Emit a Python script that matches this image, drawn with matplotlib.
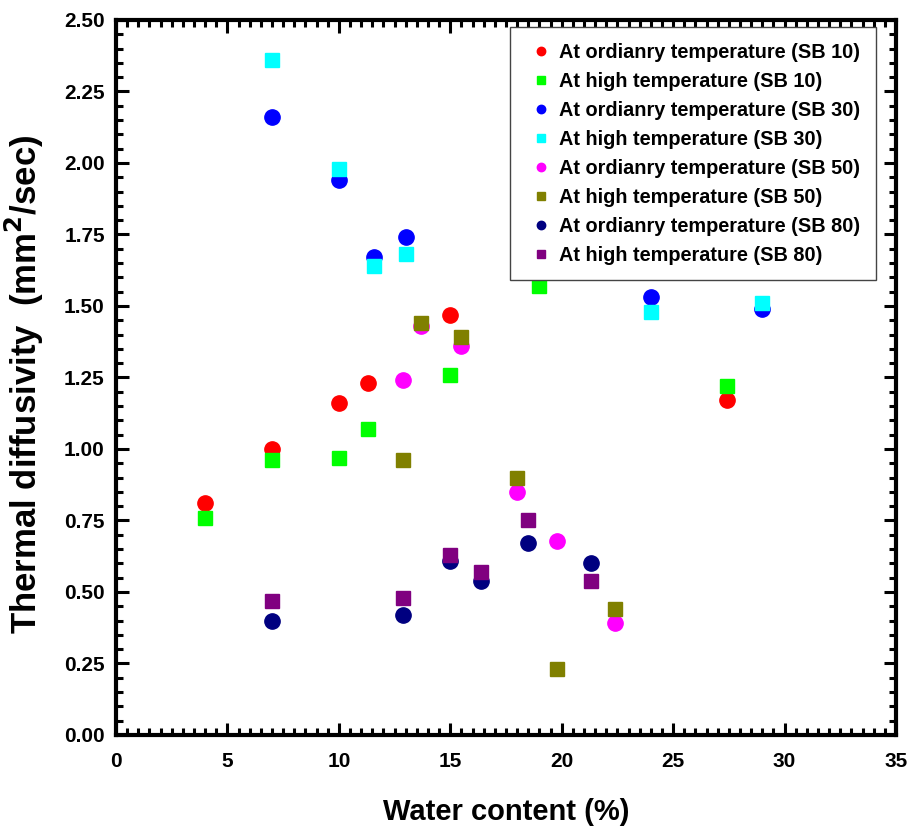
import matplotlib
matplotlib.use("Agg")
import matplotlib.pyplot as plt
from matplotlib.ticker import MultipleLocator

plt.rcParams['font.family'] = ['Liberation Sans', 'DejaVu Sans']
plt.rcParams['font.weight'] = 'bold'

# SB 10
sb10_ord_x = [4, 7, 10, 11.3, 15, 27.4]
sb10_ord_y = [0.81, 1.00, 1.16, 1.23, 1.47, 1.17]
sb10_high_x = [4, 7, 10, 11.3, 15, 19, 27.4]
sb10_high_y = [0.76, 0.96, 0.97, 1.07, 1.26, 1.57, 1.22]
# SB 30
sb30_ord_x = [7, 10, 11.6, 13, 24, 29]
sb30_ord_y = [2.16, 1.94, 1.67, 1.74, 1.53, 1.49]
sb30_high_x = [7, 10, 11.6, 13, 24, 29]
sb30_high_y = [2.36, 1.98, 1.64, 1.68, 1.48, 1.51]
# SB 50
sb50_ord_x = [12.9, 13.7, 15.5, 18, 19.8, 22.4]
sb50_ord_y = [1.24, 1.43, 1.36, 0.85, 0.68, 0.39]
sb50_high_x = [12.9, 13.7, 15.5, 18, 19.8, 22.4]
sb50_high_y = [0.96, 1.44, 1.39, 0.90, 0.23, 0.44]
# SB 80
sb80_ord_x = [7, 12.9, 15, 16.4, 18.5, 21.3]
sb80_ord_y = [0.40, 0.42, 0.61, 0.54, 0.67, 0.60]
sb80_high_x = [7, 12.9, 15, 16.4, 18.5, 21.3]
sb80_high_y = [0.47, 0.48, 0.63, 0.57, 0.75, 0.54]

series = [
    (sb10_ord_x, sb10_ord_y, 'o', '#FF0000', 'At ordianry temperature (SB 10)'),
    (sb10_high_x, sb10_high_y, 's', '#00FF00', 'At high temperature (SB 10)'),
    (sb30_ord_x, sb30_ord_y, 'o', '#0000FF', 'At ordianry temperature (SB 30)'),
    (sb30_high_x, sb30_high_y, 's', '#00FFFF', 'At high temperature (SB 30)'),
    (sb50_ord_x, sb50_ord_y, 'o', '#FF00FF', 'At ordianry temperature (SB 50)'),
    (sb50_high_x, sb50_high_y, 's', '#808000', 'At high temperature (SB 50)'),
    (sb80_ord_x, sb80_ord_y, 'o', '#000080', 'At ordianry temperature (SB 80)'),
    (sb80_high_x, sb80_high_y, 's', '#800080', 'At high temperature (SB 80)'),
]

fig = plt.figure(figsize=(9.11, 8.32), dpi=100)
ax = fig.add_axes([0.1273, 0.1166, 0.8562, 0.8594])

for x, y, m, c, lab in series:
    ms = 11 if m == 'o' else 9.5
    ax.plot(x, y, linestyle='none', marker=m, markersize=ms, color=c, label=lab)

ax.set_xlim(0, 35)
ax.set_ylim(0, 2.5)
ax.xaxis.set_major_locator(MultipleLocator(5))
ax.xaxis.set_minor_locator(MultipleLocator(0.5))
ax.yaxis.set_major_locator(MultipleLocator(0.25))
ax.yaxis.set_minor_locator(MultipleLocator(0.05))
ax.yaxis.set_major_formatter(plt.FormatStrFormatter('%.2f'))

for s in ax.spines.values():
    s.set_linewidth(3)
ax.tick_params(which='both', direction='in', top=True, right=True, width=2.2)
ax.tick_params(which='major', length=9, labelsize=15)
ax.tick_params(axis='x', which='major', pad=12)
ax.tick_params(axis='y', which='major', pad=8)
ax.tick_params(which='minor', length=5)

ax.set_xlabel('Water content (%)', fontsize=21, fontweight='bold', labelpad=20)
ax.set_ylabel('Thermal diffusivity  (mm$^\\mathbf{2}$/sec)', fontsize=25, fontweight='bold')
ax.yaxis.set_label_coords(-0.09, 0.49)

leg = ax.legend(loc='upper right', bbox_to_anchor=(0.975, 0.99), borderaxespad=0,
                fancybox=False, framealpha=1, edgecolor='#444444', markerscale=0.55,
                prop={'size': 14.3, 'weight': 'bold'}, handletextpad=0.2, handlelength=1.5,
                labelspacing=0.5, borderpad=0.8)
leg.get_frame().set_linewidth(1)

fig.savefig('out.png', dpi=100)
